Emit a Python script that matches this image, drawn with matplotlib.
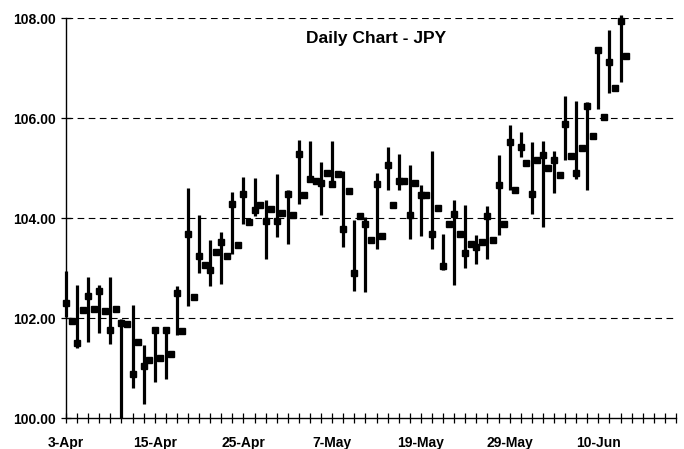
import matplotlib
matplotlib.use("Agg")
import matplotlib.pyplot as plt
import numpy as np

plt.rcParams['font.family'] = ['Liberation Sans', 'DejaVu Sans']

# daily high / low / close (bar with marker) and the loose square between days
high = [102.95, 102.66, 102.83, 102.66, 102.83, 101.99, 102.26, 101.46, 101.81, 101.81,
        102.65, 104.61, 104.06, 103.56, 103.73, 104.53, 104.83, 104.81, 104.36, 104.88,
        104.56, 105.57, 105.54, 105.13, 105.55, 104.95, 103.96, 104.03, 104.91, 105.43,
        105.29, 105.06, 104.66, 105.35, 103.68, 104.37, 104.26, 103.66, 104.24, 105.27,
        105.86, 105.73, 105.53, 105.54, 105.35, 106.45, 106.35, 106.33, 107.43, 107.77,
        108.06]
low = [102.03, 101.41, 101.53, 101.71, 101.48, 100.00, 100.61, 100.28, 100.73, 100.78,
       101.66, 102.24, 102.91, 102.64, 102.68, 103.29, 103.89, 104.05, 103.19, 103.63,
       103.49, 104.29, 104.73, 104.07, 104.63, 103.43, 102.54, 102.53, 103.39, 104.56,
       104.56, 103.59, 103.64, 103.39, 102.97, 102.66, 103.01, 103.09, 103.19, 103.66,
       104.56, 105.23, 104.08, 103.83, 104.51, 105.16, 104.78, 104.57, 106.19, 106.51,
       106.72]
close = [102.31, 101.51, 102.44, 102.54, 101.77, 101.91, 100.88, 101.04, 101.77, 101.77,
         102.51, 103.69, 103.24, 102.96, 103.53, 104.29, 104.49, 104.17, 103.95, 103.95,
         104.49, 105.29, 104.79, 104.71, 104.68, 103.79, 102.91, 103.89, 104.69, 105.07,
         104.74, 104.07, 104.47, 103.68, 103.04, 104.08, 103.31, 103.43, 104.04, 104.67,
         105.52, 105.43, 104.49, 105.26, 105.17, 105.89, 104.91, 106.25, 107.36, 107.13,
         107.95]
mid = [101.94, 102.16, 102.18, 102.14, 102.19, 101.88, 101.53, 101.16, 101.21, 101.29,
       101.74, 102.43, 103.07, 103.33, 103.25, 103.46, 103.93, 104.26, 104.19, 104.11,
       104.06, 104.46, 104.75, 104.91, 104.88, 104.55, 104.05, 103.56, 103.65, 104.27,
       104.74, 104.71, 104.46, 104.21, 103.88, 103.69, 103.49, 103.53, 103.56, 103.89,
       104.56, 105.11, 105.16, 105.01, 104.86, 105.24, 105.41, 105.64, 106.03, 106.61,
       107.24]

date_labels = ["3-Apr", "15-Apr", "25-Apr", "7-May", "19-May", "29-May", "10-Jun"]
label_every = 8
n_slots = 55
y_ticks = [100, 102, 104, 106, 108]

fig = plt.figure(figsize=(6.84, 4.49), dpi=100)
ax = fig.add_axes([66/684, 1 - 418/449, 610/684, 400/449])

x = np.arange(len(high))
ax.vlines(x, low, high, color='black', linewidth=2.3, clip_on=False, zorder=3)
ax.plot(x, close, 's', color='black', markersize=4.2, clip_on=False, zorder=4)
ax.plot(x + 0.5, mid, 's', color='black', markersize=4.0, clip_on=False, zorder=4)

ax.set_xlim(0, n_slots)
ax.set_ylim(100, 108)

ax.set_xticks(np.arange(0, n_slots + 1))
ax.set_xticklabels([date_labels[i // label_every] if i % label_every == 0 and i // label_every < len(date_labels) else ''
                    for i in range(n_slots + 1)])
ax.set_yticks(y_ticks)
ax.set_yticklabels(['%.2f' % v for v in y_ticks])

for v in y_ticks[1:]:
    ax.axhline(v, color='black', linewidth=0.8, linestyle=(0, (6, 4)), zorder=1)

for s in ['top', 'right']:
    ax.spines[s].set_visible(False)
for s in ['left', 'bottom']:
    ax.spines[s].set_linewidth(1.0)

ax.tick_params(axis='both', direction='inout', length=6.5, width=0.9, labelsize=10)
ax.tick_params(axis='x', pad=9.5)
ax.tick_params(axis='y', pad=4)
for lab in ax.get_xticklabels() + ax.get_yticklabels():
    lab.set_fontweight('bold')

ax.text(0.508, 0.95, 'Daily Chart - JPY', transform=ax.transAxes, ha='center', va='center',
        fontsize=12.5, fontweight='bold')

fig.savefig('out.png', dpi=100)
